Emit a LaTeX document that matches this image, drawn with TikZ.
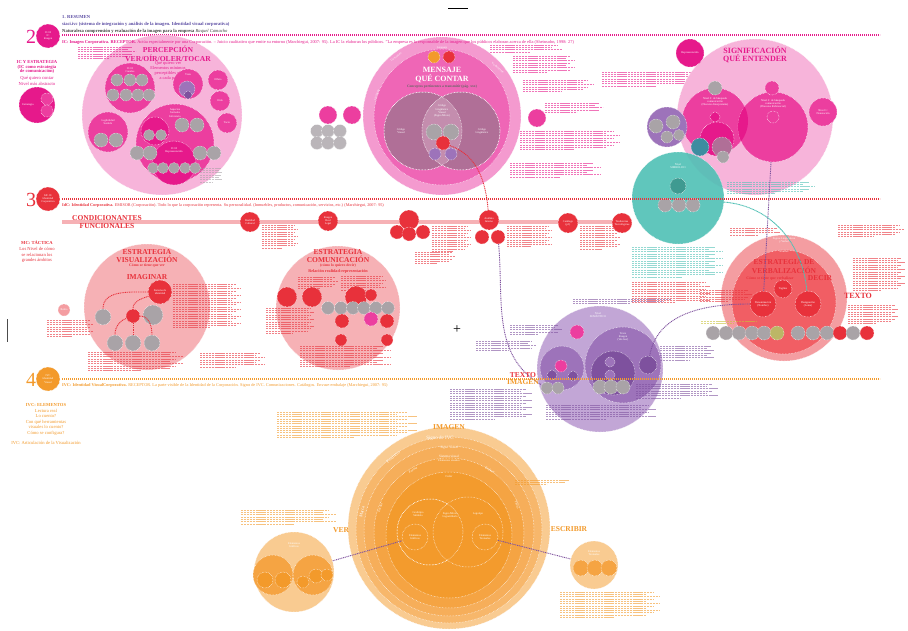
\documentclass[tikz,border=0pt]{standalone}
\usepackage{fontspec}
\setmainfont{Liberation Serif}
\definecolor{mag}{HTML}{E6198B}
\definecolor{magB}{HTML}{EC3E9F}
\definecolor{pinkL}{HTML}{F7B4DA}
\definecolor{pinkO}{HTML}{F49ACF}
\definecolor{pinkM}{HTML}{EF66B6}
\definecolor{mauve}{HTML}{B06F97}
\definecolor{mauveL}{HTML}{C48DAE}
\definecolor{redC}{HTML}{E8313B}
\definecolor{redL}{HTML}{F6B1B5}
\definecolor{redM}{HTML}{F15E64}
\definecolor{redO}{HTML}{F49DA1}
\definecolor{orC}{HTML}{F39A2B}
\definecolor{orL}{HTML}{F9CB91}
\definecolor{orM}{HTML}{F6AE5A}
\definecolor{orN}{HTML}{F5A443}
\definecolor{purC}{HTML}{7E519E}
\definecolor{purL}{HTML}{C2A6D6}
\definecolor{purM}{HTML}{9D73BA}
\definecolor{tealC}{HTML}{4FC0B5}
\definecolor{tealD}{HTML}{3E8CA0}
\definecolor{grayC}{HTML}{A9A3A7}
\definecolor{blueP}{HTML}{5B4CA3}
\definecolor{olive}{HTML}{C9C23A}
\newcommand\tf{\fontsize{2.8}{3.2}\selectfont}
\newcommand\gtxt[5]{%
  \foreach \gi in {1,...,#4}{%
    \pgfmathsetmacro\gl{ifthenelse(\gi==#4,0.55,1-0.07*mod(\gi,3))*#3}%
    \draw[#5, line width=0.55pt, opacity=0.6, dash pattern=on 2.2pt off 0.7pt] (#1,{#2+2.3*(\gi-1)}) -- ++(\gl,0);}}
\tikzset{
  cc/.style={circle, fill=#1, draw=white, densely dotted, line width=0.5pt, inner sep=0pt, align=center, font=\tf, text=white},
  ttl/.style={font=\bfseries\fontsize{#1}{#1}\selectfont, align=center, inner sep=0pt},
  sm/.style={font=\fontsize{#1}{#1}\selectfont, inner sep=0pt, anchor=west},
  conn/.style={line width=0.9pt, dash pattern=on 1pt off 0.8pt},
  band/.style={line width=2.2pt, dash pattern=on 1.1pt off 0.9pt}
}
\begin{document}
\begin{tikzpicture}[x=1pt,y=-1pt]
\useasboundingbox (0,0) rectangle (908,630);
\fill[white] (0,0) rectangle (908,630);
% header marks
\coordinate (hm1) at (448,8); \coordinate (hm2) at (468,8);
\draw[black, line width=0.6pt] (hm1) -- (hm2);
\coordinate (vm1) at (7,319); \coordinate (vm2) at (7,342);
\draw[black!70, line width=0.9pt] (vm1) -- (vm2);
\node[font=\fontsize{14}{14}\selectfont, inner sep=0pt] (plus) at (457,330) {+};
% title
\node[sm=4.6, text=blueP, font=\bfseries\fontsize{4.6}{5}\selectfont] (h1) at (62,17) {1. RESUMEN};
\node[sm=4.6, text=blueP, font=\bfseries\fontsize{4.6}{5}\selectfont] (h2) at (62,24) {siaci.ivc (sistema de integración y análisis de la imagen. Identidad visual corporativa)};
\node[sm=4.6, text=black!75, font=\bfseries\fontsize{4.6}{5}\selectfont] (h3) at (62,31) {Naturaleza comprensión y evaluación de la imagen para la empresa \textit{\mdseries Raquel Camacho}};
% ===== ROW 2 =====
\node[text=mag, font=\fontsize{20}{20}\selectfont, inner sep=0pt] (n2) at (31,37) {2};
\node[cc=mag, minimum size=24] (ic2) at (48,36) {IC.02\\IC\\Imagen};
\coordinate (b2a) at (62,35); \coordinate (b2b) at (880,35);
\draw[mag, band] (b2a) -- (b2b);
\node[ttl=4.6, text=mag] (icE) at (37,67) {IC Y ESTRATEGIA\\(IC como estrategia\\de comunicación)};
\node[ttl=4.6, text=mag, font=\fontsize{4.6}{5.4}\selectfont] (icQ) at (37,81) {Qué quiero contar\\Nivel más abstracto};
\node[cc=mag, minimum size=36] (icC) at (37,105) {};
\node[cc=magB, minimum size=12] (icC1) at (47,99) {};
\node[cc=magB, minimum size=12] (icC2) at (47,111) {};
\node[font=\tf, text=white] (icCt) at (28,105) {Estrategia};
% PERCEPCION
\node[cc=pinkL, minimum size=160] (perc) at (162,115) {};
\gtxt{78}{47}{58}{6}{mag}
\node[ttl=7.6, text=mag] (percT) at (168,49) {PERCEPCIÓN};
\node[ttl=7.6, text=mag] (percT2) at (168,58) {VER/OÍR/OLER/TOCAR};
\node[ttl=4.4, text=mag, font=\fontsize{4.4}{5}\selectfont] (percT3) at (168,71) {Qué quiero ver\\Elementos mínimos\\perceptibles en\\a cada pp};
\node[cc=magB, minimum size=50] (canal) at (130,88) {};
\node[font=\tf, text=white, align=center] (canalT) at (130,70) {IC.01\\Canales};
\foreach \n/\x/\y in {c1/117/80,c2/130/80,c3/142/80,c4/113/95,c5/126/95,c6/138/95,c7/149/95}
  \node[cc=grayC, minimum size=12] (\n) at (\x,\y) {};
\node[cc=magB, minimum size=30] (vista) at (188,84) {};
\node[cc=purM, minimum size=16] (vistaP) at (187,89) {};
\node[cc=purC, minimum size=8] (vistaPP) at (188,95) {};
\node[font=\tf, text=white] (vistaT) at (188,75) {Vista};
\node[cc=magB, minimum size=20] (olf) at (218,80) {Olfato};
\node[cc=magB, minimum size=20] (oido) at (220,101) {Oído};
\node[cc=magB, minimum size=20] (tacto) at (227,123) {Tacto};
\node[cc=magB, minimum size=40] (legib) at (108,132) {};
\node[font=\tf, text=white, align=center] (legibT) at (108,122) {Legibilidad\\Sentido};
\node[cc=grayC, minimum size=14] (lg1) at (101,140) {};
\node[cc=grayC, minimum size=14] (lg2) at (116,140) {};
\node[cc=magB, minimum size=78] (aspect) at (175,143) {};
\node[font=\tf, text=white, align=center] (aspT) at (175,113) {Aspectos\\formales\\Inferencia};
\node[cc=mag, minimum size=28] (aspA) at (155,131) {};
\node[cc=grayC, minimum size=11] (aa1) at (149,135) {};
\node[cc=grayC, minimum size=11] (aa2) at (161,135) {};
\node[cc=grayC, minimum size=14] (ab1) at (182,125) {};
\node[cc=grayC, minimum size=14] (ab2) at (197,125) {};
\node[cc=mag, minimum size=44] (aspB) at (174,163) {};
\node[font=\tf, text=white, align=center] (aspBT) at (174,150) {IC.03\\Representación};
\foreach \n/\x in {ar1/153,ar2/163,ar3/174,ar4/185,ar5/195}
  \node[cc=grayC, minimum size=11] (\n) at (\x,168) {};
\foreach \n/\x in {as1/137,as2/150,as3/200,as4/214}
  \node[cc=grayC, minimum size=14] (\n) at (\x,153) {};
\gtxt{200}{168}{22}{7}{grayC}
% middle cluster
\node[cc=magB, minimum size=18] (mm1) at (328,115) {};
\node[cc=magB, minimum size=18] (mm2) at (352,115) {};
\foreach \n/\x/\y in {mg1/317/131,mg2/328/131,mg3/340/131,mg4/317/143,mg5/328/143,mg6/340/143}
  \node[cc=grayC!80!white, minimum size=13] (\n) at (\x,\y) {};
% MENSAJE
\node[cc=pinkO, minimum size=158] (menO) at (442,116) {};
\node[cc=pinkM, minimum size=136] (men2) at (442,117) {};
\node[cc=mauve, minimum size=78] (menL) at (423,131) {};
\node[cc=mauve, minimum size=78] (menR) at (461,131) {};
\begin{scope}
  \clip (menL.center) circle[radius=39pt];
  \fill[mauveL] (menR.center) circle[radius=39pt];
\end{scope}
\draw[white, densely dotted, line width=0.5pt] (menL.center) circle[radius=39pt];
\draw[white, densely dotted, line width=0.5pt] (menR.center) circle[radius=39pt];
\node[font=\tf, text=white, rotate=35] (menR1) at (396,57) {Un Sentido};
\node[font=\tf, text=white, rotate=-40] (menR2) at (498,68) {Un Referente};
\node[font=\tf, text=white, rotate=70] (menR3) at (377,95) {Un Signo};
\node[font=\tf, text=white] (menLg) at (442,48) {Lenguaje};
\node[cc=orC, minimum size=12] (menOr) at (434,57) {};
\node[cc=redC, minimum size=12] (menRd) at (449,57) {};
\node[ttl=8, text=white] (menT1) at (442,70) {MENSAJE};
\node[ttl=8, text=white] (menT2) at (442,79) {QUÉ CONTAR};
\node[font=\bfseries\fontsize{3.6}{4}\selectfont, text=black!60] (menT3) at (442,87) {Conceptos pertinentes a transmitir (pág. xxx)};
\node[font=\tf, text=white, align=center] (menLt) at (401,131) {Código\\Visual};
\node[font=\tf, text=white, align=center] (menRt) at (482,131) {Código\\Lingüístico};
\node[font=\tf, text=white, align=center] (menMt) at (442,111) {Código\\Lingüístico\\Visual\\(Signo Mixto)};
\node[cc=grayC, minimum size=16] (mc1) at (434,132) {};
\node[cc=grayC, minimum size=16] (mc2) at (451,132) {};
\node[cc=redC, minimum size=14] (menRed) at (443,143) {};
\node[cc=purM, minimum size=12] (mp1) at (435,154) {};
\node[cc=purM, minimum size=12] (mp2) at (451,154) {};
\node[cc=magB, minimum size=18] (sigSm) at (537,118) {};
\gtxt{490}{45}{72}{4}{mag}
\gtxt{513}{56}{62}{8}{mag}
\gtxt{523}{80}{70}{6}{mag}
\gtxt{545}{103}{58}{5}{mag}
\gtxt{520}{131}{100}{9}{mag}
\gtxt{510}{163}{90}{7}{mag}
\gtxt{602}{72}{100}{7}{mag}
% SIGNIFICACION
\node[cc=pinkL, minimum size=156] (sig) at (755,117) {};
\node[ttl=8, text=mag] (sigT1) at (755,50) {SIGNIFICACIÓN};
\node[ttl=8, text=mag] (sigT2) at (755,59) {QUÉ ENTENDER};
\node[cc=mag, minimum size=28] (repr) at (690,53) {Representación};
\node[cc=magB, minimum size=66] (sigL) at (715,121) {};
\node[cc=magB, minimum size=70] (sigR) at (773,127) {};
\begin{scope}
  \clip (sigL.center) circle[radius=33pt];
  \fill[mag] (sigR.center) circle[radius=35pt];
\end{scope}
\node[font=\tf, text=white, align=center] (sigLt) at (715,102) {Nivel 3: de búsqueda\\comunicación\\(Discurso Interpretante)};
\node[font=\tf, text=white, align=center] (sigRt) at (773,104) {Nivel 2: de búsqueda\\comunicación\\(Discurso Referencial)};
\node[cc=magB, minimum size=28] (niv1) at (823,112) {Nivel 1:\\Denotación};
\node[cc=grayC, minimum size=14] (sg1) at (715,88) {};
\node[cc=magB, minimum size=14] (sg2) at (772,88) {};
\node[cc=mag, minimum size=10] (sg3) at (715,117) {};
\node[cc=mag, minimum size=34] (sg4) at (717,139) {};
\node[cc=magB, minimum size=12] (sg5) at (773,117) {};
\node[cc=purM, minimum size=40] (sigP) at (667,127) {};
\node[cc=grayC, minimum size=14] (sp1) at (656,126) {};
\node[cc=grayC, minimum size=14] (sp2) at (673,122) {};
\node[cc=grayC, minimum size=12] (sp3) at (667,137) {};
\node[cc=grayC, minimum size=11] (sp4) at (679,135) {};
\node[cc=tealC, minimum size=92, opacity=0.9] (teal) at (678,198) {};
\node[font=\tf, text=white, align=center] (tealT) at (678,166) {Nivel\\SIMBÓLICO};
\node[cc=tealC!80!black, minimum size=16] (tealS) at (678,186) {};
\node[cc=tealD, minimum size=18] (sg6) at (700,147) {};
\node[cc=mauve, minimum size=20] (sg7) at (722,147) {};
\node[cc=grayC, minimum size=12] (sg8) at (723,157) {};
\foreach \n/\x in {tg1/665,tg2/679,tg3/693}
  \node[cc=grayC, minimum size=14] (\n) at (\x,205) {};
\gtxt{727}{182}{88}{6}{tealC}
% ===== ROW 3 =====
\node[text=redC, font=\fontsize{20}{20}\selectfont, inner sep=0pt] (n3) at (31,200) {3};
\node[cc=redC, minimum size=24] (ic3) at (48,199) {IdC.01\\Identidad\\Corporativa};
\coordinate (b3a) at (62,199); \coordinate (b3b) at (880,199);
\draw[redC, band] (b3a) -- (b3b);
\coordinate (cba) at (62,222); \coordinate (cbb) at (630,222);
\draw[redL, line width=4pt] (cba) -- (cbb);
\node[ttl=7.5, text=redC] (condT) at (107,222) {CONDICIONANTES\\FUNCIONALES};
\node[ttl=4.6, text=redC] (mcT) at (37,243) {MC: TÁCTICA};
\node[font=\fontsize{4.6}{5.4}\selectfont, text=redC, align=center, inner sep=0pt] (mcT2) at (37,255) {Los Nivel de cómo\\se relacionan los\\grandes ámbitos};
\node[cc=redC, minimum size=20] (cf1) at (250,222) {Realidad\\Cultural};
\node[cc=redC, minimum size=20] (cf2) at (328,221) {Imagen\\Real\\Legal};
\node[cc=redC, minimum size=20] (cf3) at (409,220) {};
\node[cc=redC, minimum size=14] (cf3a) at (397,232) {};
\node[cc=redC, minimum size=14] (cf3b) at (409,234) {};
\node[cc=redC, minimum size=14] (cf3c) at (423,232) {};
\node[cc=redC, minimum size=20] (cf4) at (489,220) {Análisis\\Interno};
\node[cc=redC, minimum size=14] (cf4a) at (482,237) {};
\node[cc=redC, minimum size=14] (cf4b) at (498,237) {};
\node[cc=redC, minimum size=20] (cf5) at (568,223) {Catálogo\\(p1)};
\node[cc=redC, minimum size=20] (cf6) at (622,223) {Tendencias\\Tecnológicas};
\gtxt{262}{225}{36}{11}{redC}
\gtxt{432}{226}{38}{12}{redC}
\gtxt{415}{252}{40}{6}{redC}
\gtxt{507}{226}{44}{10}{redC}
\gtxt{580}{226}{40}{11}{redC}
% VISUALIZACION
\node[cc=redL, minimum size=126] (vis) at (147,307) {};
\node[ttl=7.5, text=redC] (visT1) at (147,252) {ESTRATEGIA};
\node[ttl=7.5, text=redC] (visT2) at (147,259) {VISUALIZACIÓN};
\node[ttl=3.8, text=redC] (visT3) at (147,266) {Cómo se tiene que ver};
\node[ttl=7.5, text=redC] (visT4) at (147,277) {IMAGINAR};
\node[cc=redC, minimum size=24] (vr1) at (160,292) {Sistema de\\identidad};
\node[cc=grayC, minimum size=16] (vg1) at (103,317) {};
\node[cc=redC, minimum size=14] (vr2) at (133,316) {};
\node[cc=grayC, minimum size=20] (vg2) at (153,315) {};
\node[cc=grayC, minimum size=16] (vg3) at (115,343) {};
\node[cc=grayC, minimum size=16] (vg4) at (133,343) {};
\node[cc=grayC, minimum size=16] (vg5) at (152,343) {};
\draw[redC, conn] (vr1) to[out=180, in=90] (vg1);
\draw[redC, conn] (vr1) to[out=200, in=90] (vr2);
\draw[redC, conn] (vr2) to[out=200, in=90] (vg3);
\draw[redC, conn] (vr2) -- (vg4);
\draw[redC, conn] (vr2) to[out=0, in=90] (vg5);
\node[cc=redO, minimum size=12] (rub) at (64,310) {Rubio};
\gtxt{47}{320}{46}{8}{redC}
\gtxt{173}{284}{68}{20}{redC}
\gtxt{88}{352}{95}{9}{redC}
\gtxt{200}{353}{65}{7}{redC}
% COMUNICACION
\node[cc=redL, minimum size=124] (com) at (338,308) {};
\node[ttl=7.5, text=redC] (comT1) at (338,252) {ESTRATEGIA};
\node[ttl=7.5, text=redC] (comT2) at (338,259) {COMUNICACIÓN};
\node[ttl=3.8, text=redC] (comT3) at (338,265.5) {(cómo lo quiero decir)};
\node[ttl=4.2, text=redC] (comT4) at (338,271) {Relación realidad-representación};
\gtxt{298}{277}{40}{6}{redC}
\gtxt{341}{276}{45}{7}{redC}
\node[cc=redC, minimum size=20] (cr1) at (287,297) {};
\node[cc=redC, minimum size=20] (cr2) at (312,297) {};
\node[cc=redC, minimum size=22] (cr3) at (356,297) {};
\node[cc=redC, minimum size=12] (cr4) at (371,295) {};
\foreach \n/\x in {cg1/328,cg2/341,cg3/353,cg4/364,cg5/376,cg6/388}
  \node[cc=grayC, minimum size=13] (\n) at (\x,308) {};
\node[cc=redC, minimum size=14] (cr5) at (342,321) {};
\node[cc=magB, minimum size=14] (cr6) at (371,319) {};
\node[cc=redC, minimum size=14] (cr7) at (387,321) {};
\node[cc=redC, minimum size=12] (cr8) at (341,340) {};
\node[cc=redC, minimum size=12] (cr9) at (387,340) {};
\gtxt{266}{308}{48}{12}{redC}
\gtxt{300}{346}{90}{10}{redC}
% VERBALIZACION
\node[cc=redO, minimum size=126] (verb) at (784,298) {};
\node[cc=redM, minimum size=104] (verbI) at (784,302) {};
\node[font=\tf, text=white, align=center] (verbT0) at (784,240) {Signos Lingüísticos\\y Verbal};
\node[font=\tf, text=white] (verbT01) at (784,252) {Nombre};
\node[ttl=7.5, text=redC] (verbT1) at (784,262) {ESTRATEGIA DE};
\node[ttl=7.5, text=redC] (verbT2) at (784,270) {VERBALIZACIÓN};
\node[ttl=3.8, text=redC] (verbT3) at (770,278.5) {Cómo se tiene que verbalizar};
\node[ttl=7.5, text=redC] (verbT4) at (820,278) {DECIR};
\node[cc=redC, minimum size=18] (tagl) at (783,289) {Tagline};
\node[cc=redC, minimum size=26] (vdL) at (763,304) {Denominación\\(Nombre)};
\node[cc=redC, minimum size=26] (vdR) at (808,304) {Designación\\(Lema)};
\foreach \n/\x/\c in {vc1/713/grayC,vc2/726/grayC,vc3/739/grayC,vc4/752/grayC,vc5/764/grayC,vc6/777/olive!60!grayC,vc7/798/grayC,vc8/813/grayC,vc9/827/grayC,vc10/840/redC,vc11/853/grayC,vc12/867/redC}
  \node[cc=\c, minimum size=14] (\n) at (\x,333) {};
\node[ttl=8, text=redC] (textoR) at (858,296) {TEXTO};
\gtxt{730}{228}{50}{4}{redC}
\gtxt{838}{225}{66}{6}{redC}
\gtxt{853}{258}{52}{15}{redC}
\gtxt{848}{305}{50}{9}{redC}
\gtxt{700}{290}{52}{6}{redC}
\gtxt{701}{321}{60}{2}{olive}
\gtxt{632}{247}{90}{14}{tealC}
\gtxt{632}{282}{78}{10}{redC}
% connectors to verbalizacion
\draw[purC, conn] (sigR) -- (vdL);
\draw[tealC, line width=0.9pt, dash pattern=on 1pt off 0.5pt] (teal) to[out=-5, in=95] (vdR);
% ===== PURPLE =====
\node[cc=purL, minimum size=126] (pur) at (600,369) {};
\node[font=\tf, text=white, align=center] (purT) at (598,315) {Nivel\\SEMÁNTICO};
\node[cc=magB, minimum size=14] (purM1) at (577,332) {};
\node[cc=purM, minimum size=44] (purLc) at (562,368) {};
\node[cc=magB, minimum size=12] (purM2) at (561,366) {};
\node[cc=purC, minimum size=10] (purLa) at (552,375) {};
\node[cc=purC, minimum size=10] (purLb) at (573,376) {};
\node[cc=purM, minimum size=76] (purR) at (623,365) {};
\node[font=\tf, text=white, align=center] (purRT) at (623,337) {Texto\\Imagen\\(Ver-leer)};
\node[cc=purC, minimum size=44] (purRi) at (613,373) {};
\node[cc=purM, minimum size=10] (purRa) at (610,362) {};
\node[cc=purM, minimum size=10] (purRb) at (610,375) {};
\node[cc=purC, minimum size=18] (purS) at (648,365) {};
\node[cc=grayC, minimum size=12] (pg1) at (547,388) {};
\node[cc=grayC, minimum size=12] (pg2) at (558,388) {};
\node[cc=grayC, minimum size=14] (pg3) at (600,387) {};
\node[cc=grayC, minimum size=14] (pg4) at (611,387) {};
\node[cc=grayC, minimum size=14] (pg5) at (623,387) {};
\gtxt{573}{299}{105}{3}{purC}
\gtxt{510}{325}{52}{5}{purC}
\gtxt{476}{341}{60}{5}{purC}
\gtxt{450}{389}{82}{14}{purC}
\gtxt{546}{405}{110}{7}{purC}
\gtxt{660}{346}{55}{7}{purC}
\gtxt{636}{384}{82}{7}{purC}
% purple / red connectors
\draw[redC, conn] (menRed) to[out=-20, in=95] (cf4);
\draw[purC, conn] (cf4b) to[out=-85, in=150] (pg1);
\draw[purC, conn] (purS) to[out=80, in=180] (vdL);
% ===== ROW 4 =====
\node[text=orC, font=\fontsize{20}{20}\selectfont, inner sep=0pt] (n4) at (31,380) {4};
\node[cc=orC, minimum size=24] (ic4) at (48,379) {IVC\\Identidad\\Visual};
\coordinate (b4a) at (62,379); \coordinate (b4b) at (880,379);
\draw[orC, band] (b4a) -- (b4b);
\node[ttl=7.5, text=redC] (textoP) at (523,375) {TEXTO};
\node[ttl=7.5, text=orC] (imagP) at (523,382) {IMAGEN};
\node[ttl=4.6, text=orC] (ivcE) at (46,405) {IVC: ELEMENTOS};
\node[font=\fontsize{4.6}{5.5}\selectfont, text=orC, align=center, inner sep=0pt] (ivcE2) at (46,422) {Lectura real\\Lo cuento?\\Con qué herramientas\\visuales lo cuento?\\Cómo se configura?};
\node[font=\fontsize{4.6}{5}\selectfont, text=orC, inner sep=0pt] (ivcA) at (46,443) {IVC: Articulación de la Visualización};
% IMAGEN
\node[cc=orL, minimum size=202] (img) at (449,528) {};
\node[cc=orM!70!orL, minimum size=186] (img2) at (449,530) {};
\node[cc=orM, minimum size=170] (img3) at (449,531) {};
\node[cc=orN, minimum size=150] (img4) at (449,533) {};
\node[cc=orC!90!orN, minimum size=126] (img5) at (449,535) {};
\node[cc=orC, minimum size=66] (imgL) at (430,532) {};
\node[cc=orC, minimum size=70] (imgR) at (468,532) {};
\draw[white, densely dotted, line width=0.5pt] (imgL.center) circle[radius=33pt];
\node[cc=orC, minimum size=26] (elG) at (415,537) {Elementos\\Gráficos};
\node[cc=orC, minimum size=26] (elT) at (485,537) {Elementos\\Textuales};
\node[ttl=7.5, text=orC] (imgT) at (449,427) {IMAGEN};
\node[font=\fontsize{5}{5}\selectfont, text=white] (imgT1) at (440,438) {Signo de IVC};
\node[font=\fontsize{3.4}{4}\selectfont, text=white] (imgT2) at (449,448) {Signo Visual};
\node[font=\fontsize{3.4}{4}\selectfont, text=white, align=center] (imgT3) at (449,458) {Sistema visual\\\tf Elementos visuales};
\node[font=\fontsize{4.4}{5}\selectfont, text=white, rotate=40] (imgP) at (393,457) {Producto};
\node[font=\fontsize{4.4}{5}\selectfont, text=white, rotate=78] (imgM) at (362,512) {Marca};
\node[font=\fontsize{3.4}{4}\selectfont, text=white, rotate=30] (imgF) at (413,470) {Forma};
\node[font=\fontsize{3.4}{4}\selectfont, text=white, rotate=-30] (imgTx) at (490,470) {Textura};
\node[font=\fontsize{3.4}{4}\selectfont, text=white, rotate=70] (imgE) at (380,508) {Escala};
\node[font=\fontsize{3.4}{4}\selectfont, text=white, rotate=-70] (imgS) at (517,505) {Texto};
\node[font=\fontsize{3}{3.5}\selectfont, text=white] (imgC) at (449,476) {Color};
\node[font=\tf, text=white, align=center] (grafo) at (418,514) {Grafotipo\\Símbolo};
\node[font=\tf, text=white, align=center] (mixto) at (450,515) {Signo Mixto\\Logosímbolo};
\node[font=\tf, text=white] (logo) at (478,514) {Logotipo};
\gtxt{277}{412}{140}{12}{orC}
\gtxt{515}{480}{58}{3}{orC}
% VER
\node[cc=orL, minimum size=80] (ver) at (294,572) {};
\node[font=\tf, text=white, align=center] (verT) at (294,545) {Elementos\\Gráficos};
\node[cc=orN, minimum size=40] (verL) at (273,575) {};
\node[cc=orN, minimum size=40] (verR) at (313,575) {};
\node[cc=orC, minimum size=16] (verL1) at (265,580) {};
\node[cc=orC, minimum size=16] (verL2) at (283,580) {};
\node[cc=orC, minimum size=12] (verR1) at (303,582) {};
\node[cc=orC, minimum size=14] (verR2) at (316,576) {};
\node[cc=orC, minimum size=12] (verR3) at (327,575) {};
\node[ttl=7.5, text=orC] (verTT) at (341,530) {VER};
\gtxt{241}{510}{95}{7}{orC}
% ESCRIBIR
\node[cc=orL, minimum size=48] (esc) at (594,565) {};
\node[font=\tf, text=white, align=center] (escT) at (594,553) {Elementos\\Textuales};
\node[cc=orN, minimum size=16] (esc1) at (581,568) {};
\node[cc=orN, minimum size=16] (esc2) at (595,568) {};
\node[cc=orN, minimum size=16] (esc3) at (609,568) {};
\node[ttl=7.5, text=orC] (escTT) at (569,529) {ESCRIBIR};
\gtxt{560}{592}{100}{12}{orC}
\draw[purC, conn] (ver) -- (elG);
\draw[purC, conn] (elT) -- (esc);
% row header texts on top
\node[sm=4.4, text=mag, font=\bfseries\fontsize{4.4}{5}\selectfont] (r2t) at (62,42) {IC: Imagen Corporativa. RECEPTOR. \mdseries Actúa especialmente por una Corporación. – Juicio cualitativo que emite su entorno (Marchiegui, 2007: 95). La IC la elaboran los públicos. "La empresa es la responsable de la imagen que los públicos elaboran acerca de ella (Sheinsohn, 1998: 27)};
\node[sm=4.2, text=redC, font=\bfseries\fontsize{4.2}{5}\selectfont] (r3t) at (62,205) {IdC: Identidad Corporativa. \mdseries EMISOR (Corporación). Todo lo que la corporación representa. Su personalidad. (Inmuebles, productos, comunicación, servicios, etc.) (Marchiegui, 2007: 95)};
\node[sm=4.3, text=orC, font=\bfseries\fontsize{4.3}{5}\selectfont] (r4t) at (62,385) {IVC: Identidad VisualCorporativa. \mdseries RECEPTOR. La parte visible de la Identidad de la Corporación. Signo de IVC. Comunicaciones. Catálogos. Envase-embalaje (Marchiegui, 2007: 95)};
\end{tikzpicture}
\end{document}
